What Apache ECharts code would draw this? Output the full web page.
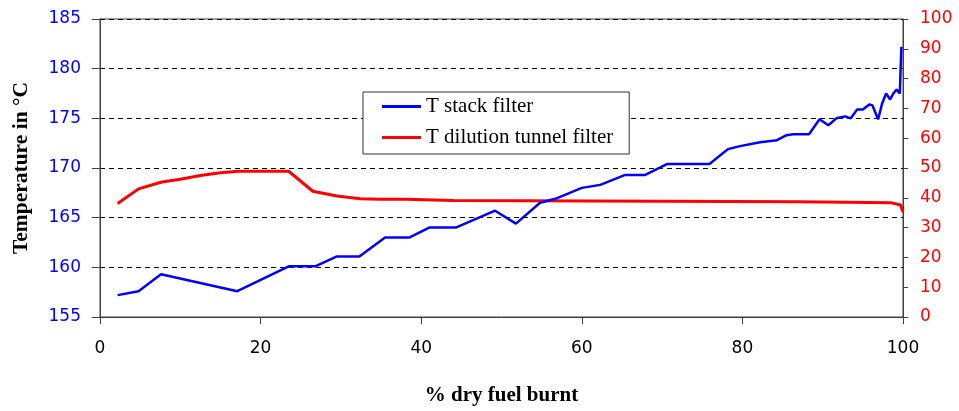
<!DOCTYPE html>
<html>
<head>
<meta charset="utf-8">
<script src="https://cdn.jsdelivr.net/npm/echarts@6/dist/echarts.min.js"></script>
<style>
html,body{margin:0;padding:0;background:#fff;}
#c{width:959px;height:411px;}
</style>
</head>
<body>
<div id="c"></div>
<script>
// Data
const stackX = [2.2, 4.8, 7.6, 17.1, 23.5, 26.8, 29.5, 32.3, 35.5, 38.5, 41.0, 44.3, 49.2, 51.8, 54.8, 56.7, 60.0, 62.3, 65.4, 67.9, 70.6, 73.3, 75.9, 78.2, 79.7, 82.2, 84.3, 85.5, 86.3, 88.3, 89.6, 90.7, 91.7, 92.8, 93.5, 94.3, 95.0, 95.8, 96.2, 96.9, 97.4, 97.9, 98.4, 98.8, 99.2, 99.6, 99.8];
const stackT = [157.2, 157.6, 159.3, 157.6, 160.1, 160.1, 161.1, 161.1, 163.0, 163.0, 164.0, 164.0, 165.7, 164.4, 166.5, 166.9, 168.0, 168.3, 169.3, 169.3, 170.4, 170.4, 170.4, 171.9, 172.2, 172.6, 172.8, 173.3, 173.4, 173.4, 174.9, 174.3, 175.0, 175.2, 175.0, 175.9, 175.9, 176.4, 176.3, 174.9, 176.5, 177.5, 176.9, 177.5, 177.9, 177.5, 182.2];
const tunnelX = [2.2, 4.8, 7.7, 10, 12.5, 15, 17.2, 23.5, 26.5, 29.5, 32.4, 34.9, 38.1, 38.3, 44.0, 44.2, 86.9, 87.1, 98.6, 99.7, 100];
const tunnelV = [38.1, 43.0, 45.3, 46.2, 47.5, 48.4, 48.9, 48.9, 42.2, 40.6, 39.7, 39.5, 39.5, 39.1, 39.1, 38.7, 38.7, 38.3, 38.3, 37.6, 35.2];
const seriesNames = ['T stack filter', 'T dilution tunnel filter'];
const seriesColors = ['#0000ff', '#ff0000'];
const xTitle = '% dry fuel burnt';
const yTitle = 'Temperature in °C';

const zip = (xs, ys) => xs.map((x, i) => [x, ys[i]]);
const axisColor = '#404040';
const tickFont = 'DejaVu Sans';

const chart = echarts.init(document.getElementById('c'), null, {renderer: 'canvas'});
chart.setOption({
  animation: false,
  backgroundColor: '#fff',
  grid: {left: 100, right: 56, top: 19, bottom: 93, show: true, borderColor: axisColor, borderWidth: 1, backgroundColor: 'transparent'},
  xAxis: {
    type: 'value', min: 0, max: 100, interval: 20,
    axisLine: {show: true, lineStyle: {color: axisColor, width: 1}},
    axisTick: {show: true, length: 7, inside: false, lineStyle: {color: axisColor}},
    axisLabel: {color: '#000', fontFamily: tickFont, fontSize: 17, margin: 23},
    splitLine: {show: false},
    name: xTitle, nameLocation: 'middle', nameGap: 68,
    nameTextStyle: {fontFamily: 'Liberation Serif', fontWeight: 'bold', fontSize: 21, color: '#000'}
  },
  yAxis: [
    {
      type: 'value', min: 155, max: 185, interval: 5, position: 'left',
      axisLine: {show: true, lineStyle: {color: axisColor}},
      axisTick: {show: true, length: 8, lineStyle: {color: axisColor}},
      axisLabel: {color: '#0000ff', fontFamily: tickFont, fontSize: 17, margin: 19},
      splitLine: {show: true, lineStyle: {color: '#000', type: [5, 4], width: 1}}
    },
    {
      type: 'value', min: 0, max: 100, interval: 10, position: 'right',
      axisLine: {show: true, lineStyle: {color: axisColor}},
      axisTick: {show: true, length: 5, lineStyle: {color: axisColor}},
      axisLabel: {color: '#ff0000', fontFamily: tickFont, fontSize: 17, margin: 17},
      splitLine: {show: false}
    }
  ],
  legend: {
    left: 363, top: 92, orient: 'vertical',
    backgroundColor: '#fff', borderColor: '#333', borderWidth: 1,
    padding: [4, 16, 6, 19],
    itemWidth: 39, itemHeight: 3, itemGap: 10,
    icon: 'rect',
    textStyle: {fontFamily: 'Liberation Serif', fontSize: 21, color: '#000', lineHeight: 21},
    data: seriesNames
  },
  graphic: [{
    type: 'text', x: 21, y: 168, rotation: Math.PI / 2,
    style: {text: yTitle, fontFamily: 'Liberation Serif', fontWeight: 'bold', fontSize: 21.5, fill: '#000', textAlign: 'center', textVerticalAlign: 'middle'}
  }],
  series: [
    {
      name: seriesNames[0], type: 'line', yAxisIndex: 0, symbol: 'none',
      data: zip(stackX, stackT),
      lineStyle: {color: seriesColors[0], width: 2.5}, itemStyle: {color: seriesColors[0]}, z: 3
    },
    {
      name: seriesNames[1], type: 'line', yAxisIndex: 1, symbol: 'none',
      data: zip(tunnelX, tunnelV),
      lineStyle: {color: seriesColors[1], width: 3}, itemStyle: {color: seriesColors[1]}, z: 2
    }
  ]
});
</script>
</body>
</html>
